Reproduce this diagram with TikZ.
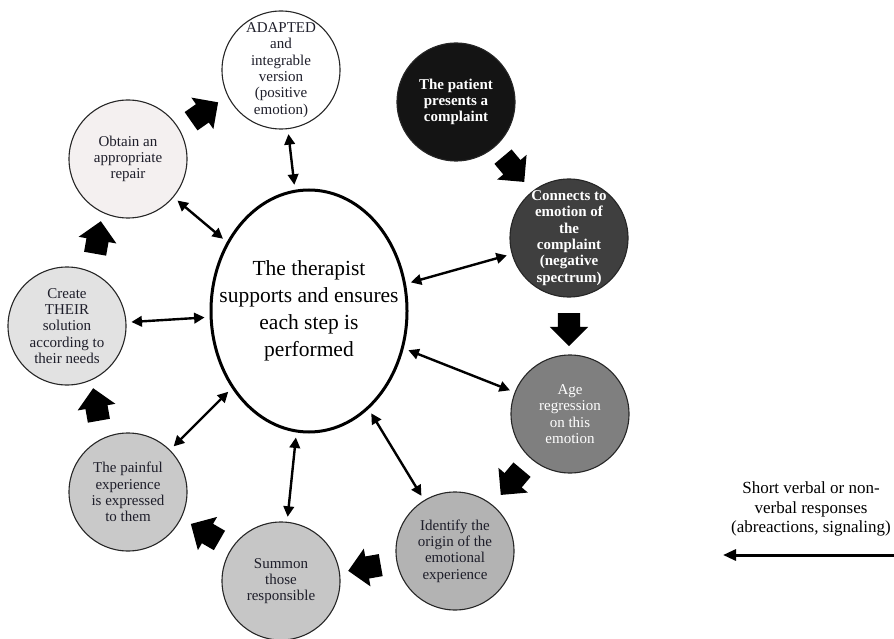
\documentclass[tikz,border=0pt]{standalone}
\usepackage{fontspec}
\setmainfont{Liberation Serif}
\usetikzlibrary{shapes.geometric,shapes.arrows,arrows.meta}

\definecolor{gris1}{HTML}{141414}
\definecolor{gris2}{HTML}{3F3F3F}
\definecolor{gris3}{HTML}{7F7F7F}
\definecolor{gris4}{HTML}{B3B3B3}
\definecolor{gris5}{HTML}{C6C6C6}
\definecolor{gris6}{HTML}{C9C9C9}
\definecolor{gris7}{HTML}{E2E2E2}
\definecolor{gris8}{HTML}{F4F0F0}
\definecolor{encre}{HTML}{1E1E2A}

\begin{document}
\begin{tikzpicture}[x=1pt,y=-1pt]
    		\tikzstyle{bulle}=[circle, draw=black!85, line width=1.1pt, minimum size=118pt, inner sep=0pt]
    		\tikzstyle{texteBulle}=[align=center, text=encre, font=\fontsize{15}{16.3}\selectfont]
    		\tikzstyle{texteBlanc}=[texteBulle, text=white]
    		\tikzstyle{lien}=[{Triangle[length=10.5pt,width=10.5pt]}-{Triangle[length=10.5pt,width=10.5pt]}, line width=2.4pt, shorten <=5pt, shorten >=5pt]
    		\tikzstyle{fleche}=[single arrow, fill=black, inner xsep=0pt, inner ysep=11pt, minimum height=33pt, single arrow head extend=8pt]
    	
    		\clip (0,0) rectangle (894,639);
    		% central ellipse
    		\node [ellipse, draw, line width=3pt, minimum width=196pt, minimum height=242pt] (centre) at (309,311) {};
    		\node [align=center, font=\fontsize{21.5}{27}\selectfont] (centreTexte) at (centre) {The therapist\\supports and ensures\\each step is\\performed};
    		% steps
    		\node [bulle, fill=white, label={[texteBulle]center:{ADAPTED\\and\\integrable\\version\\(positive\\emotion)}}] (adapte) at (281,70) {};
    		\node [bulle, fill=gris1, label={[texteBlanc, font=\fontsize{15}{16.3}\selectfont\bfseries]center:{The patient\\presents a\\complaint}}] (plainte) at (456,102) {};
    		\node [bulle, fill=gris2, label={[texteBlanc, font=\fontsize{15}{16.3}\selectfont\bfseries]center:{Connects to\\emotion of\\the\\complaint\\(negative\\spectrum)}}] (emotion) at (569,238) {};
    		\node [bulle, fill=gris3, label={[texteBlanc]center:{Age\\regression\\on this\\emotion}}] (regression) at (570,414) {};
    		\node [bulle, fill=gris4, label={[texteBulle]center:{Identify the\\origin of the\\emotional\\experience}}] (origine) at (455,551) {};
    		\node [bulle, fill=gris5, label={[texteBulle]center:{Summon\\those\\responsible}}] (convoquer) at (281,581) {};
    		\node [bulle, fill=gris6, label={[texteBulle]center:{The painful\\experience\\is expressed\\to them}}] (douleur) at (128,492) {};
    		\node [bulle, fill=gris7, label={[texteBulle]center:{Create\\THEIR\\solution\\according to\\their needs}}] (solution) at (67,326) {};
    		\node [bulle, fill=gris8, label={[texteBulle]center:{Obtain an\\appropriate\\repair}}] (reparation) at (128,159) {};
    		% block arrows between steps
    		\node [fleche, rotate=-50] (f1) at (510,165) {};
    		\node [fleche, rotate=-90] (f2) at (569,324) {};
    		\node [fleche, rotate=-130] (f3) at (515,478) {};
    		\node [fleche, rotate=190] (f4) at (370,567) {};
    		\node [fleche, rotate=150] (f5) at (210,535) {};
    		\node [fleche, rotate=100] (f6) at (97,410) {};
    		\node [fleche, rotate=80] (f7) at (97,243) {};
    		\node [fleche, rotate=35] (f8) at (200,115) {};
    		% therapist links
    		\draw [lien] (adapte) -- (centre);
    		\draw [lien] (emotion) -- (centre);
    		\draw [lien] (regression) -- (centre);
    		\draw [lien] (origine) -- (centre);
    		\draw [lien] (convoquer) -- (centre);
    		\draw [lien] (douleur) -- (centre);
    		\draw [lien] (solution) -- (centre);
    		\draw [lien] (reparation) -- (centre);
    		% legend
    		\node [align=center, font=\fontsize{17}{19.5}\selectfont] (legende) at (811,509) {Short verbal or non-\\verbal responses\\(abreactions, signaling)};
    		\coordinate (legG) at (723,555);
    		\coordinate (legD) at (915,555);
    		\draw [{Triangle[length=13pt,width=11pt]}-{Triangle[length=13pt,width=11pt]}, line width=3pt] (legG) -- (legD);
    		
\end{tikzpicture}
\end{document}
